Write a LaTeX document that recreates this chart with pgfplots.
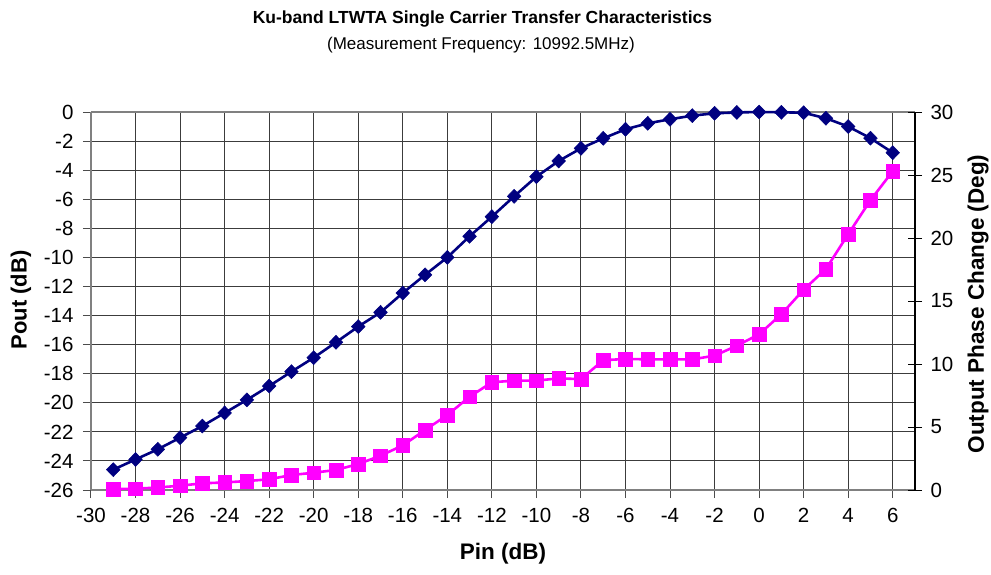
\documentclass[border=0pt]{standalone}
\usepackage{pgfplots}
\pgfplotsset{compat=1.18}
\usepackage{fontspec}
\setmainfont{Liberation Sans}
\definecolor{navyblue}{RGB}{0,0,128}
\definecolor{magent}{RGB}{255,0,255}
\definecolor{gridc}{RGB}{60,60,60}
\pgfplotstableread{
x pout
-29 -24.6
-28 -23.9
-27 -23.2
-26 -22.4
-25 -21.6
-24 -20.7
-23 -19.8
-22 -18.85
-21 -17.86
-20 -16.9
-19 -15.84
-18 -14.76
-17 -13.78
-16 -12.45
-15 -11.2
-14 -10.0
-13 -8.55
-12 -7.2
-11 -5.8
-10 -4.45
-9 -3.37
-8 -2.5
-7 -1.81
-6 -1.19
-5 -0.78
-4 -0.5
-3 -0.25
-2 -0.09
-1 -0.03
0 0
1 -0.02
2 -0.05
3 -0.43
4 -1.0
5 -1.8
6 -2.8
}\poutdata
\pgfplotstableread{
x phase
-29 0.08
-28 0.1
-27 0.2
-26 0.34
-25 0.53
-24 0.6
-23 0.71
-22 0.85
-21 1.19
-20 1.37
-19 1.59
-18 2.06
-17 2.72
-16 3.54
-15 4.76
-14 5.95
-13 7.4
-12 8.55
-11 8.68
-10 8.68
-9 8.86
-8 8.8
-7 10.3
-6 10.4
-5 10.37
-4 10.37
-3 10.37
-2 10.66
-1 11.45
0 12.36
1 13.95
2 15.9
3 17.54
4 20.3
5 23.0
6 25.3
}\phasedata
\begin{document}
\begin{tikzpicture}[x=1pt,y=1pt]
\pgfplotsset{
  every tick label/.append style={font=\fontsize{20.5}{20.5}\selectfont},
  /pgf/number format/assume math mode=true,
}
\begin{axis}[
  at={(0,0)}, anchor=south west,
  scale only axis, width=824pt, height=378pt,
  xmin=-30, xmax=7, ymin=-26, ymax=0,
  xtick={-30,-28,...,6}, ytick={-26,-24,...,0},
  grid=major,
  major grid style={gridc, line width=0.9pt},
  axis line style={black!50, line width=1.4pt},
  axis y line*=left, axis x line*=bottom,
  tick style={black!70, line width=1pt},
  tick align=outside, major tick length=8pt,
  xticklabel style={yshift=-7pt},
  yticklabel style={xshift=-6pt},
  clip=false,
]
\draw[black!50, line width=1.4pt] (axis cs:-30,0) -- (axis cs:7,0);
\addplot[navyblue, line width=2.6pt, mark=diamond*, mark size=7pt,
  mark options={xscale=1.3, solid, fill=navyblue, line width=0.5pt}]
  table[x=x, y=pout] {\poutdata};
\end{axis}
\begin{axis}[
  at={(0,0)}, anchor=south west,
  scale only axis, width=824pt, height=378pt,
  xmin=-30, xmax=7, ymin=0, ymax=30,
  ytick={0,5,...,30},
  axis x line=none, axis y line*=right,
  axis line style={black, line width=1.2pt},
  tick style={black, line width=1pt},
  tick align=center, major tick length=14pt,
  yticklabel style={xshift=5pt},
  clip=false,
]
\addplot[magent, line width=2.6pt, mark=square*, mark size=6.8pt,
  mark options={solid, fill=magent, line width=0.5pt}]
  table[x=x, y=phase] {\phasedata};
\end{axis}
\node[font=\bfseries\fontsize{17.5}{17.5}\selectfont] at (391.5,471) {Ku-band LTWTA Single Carrier Transfer Characteristics};
\node[font=\fontsize{17}{17}\selectfont] at (390,445) {(Measurement Frequency: 10992.5MHz)};
\node[font=\bfseries\fontsize{22}{22}\selectfont, rotate=90] at (-70,190) {Pout (dB)};
\node[font=\bfseries\fontsize{22.5}{22.5}\selectfont, rotate=90] at (887,186) {Output Phase Change (Deg)};
\node[font=\bfseries\fontsize{22.5}{22.5}\selectfont] at (412,-64) {Pin (dB)};
\pgfresetboundingbox
\useasboundingbox (-91,-84) rectangle (900,490);
\end{tikzpicture}
\end{document}
